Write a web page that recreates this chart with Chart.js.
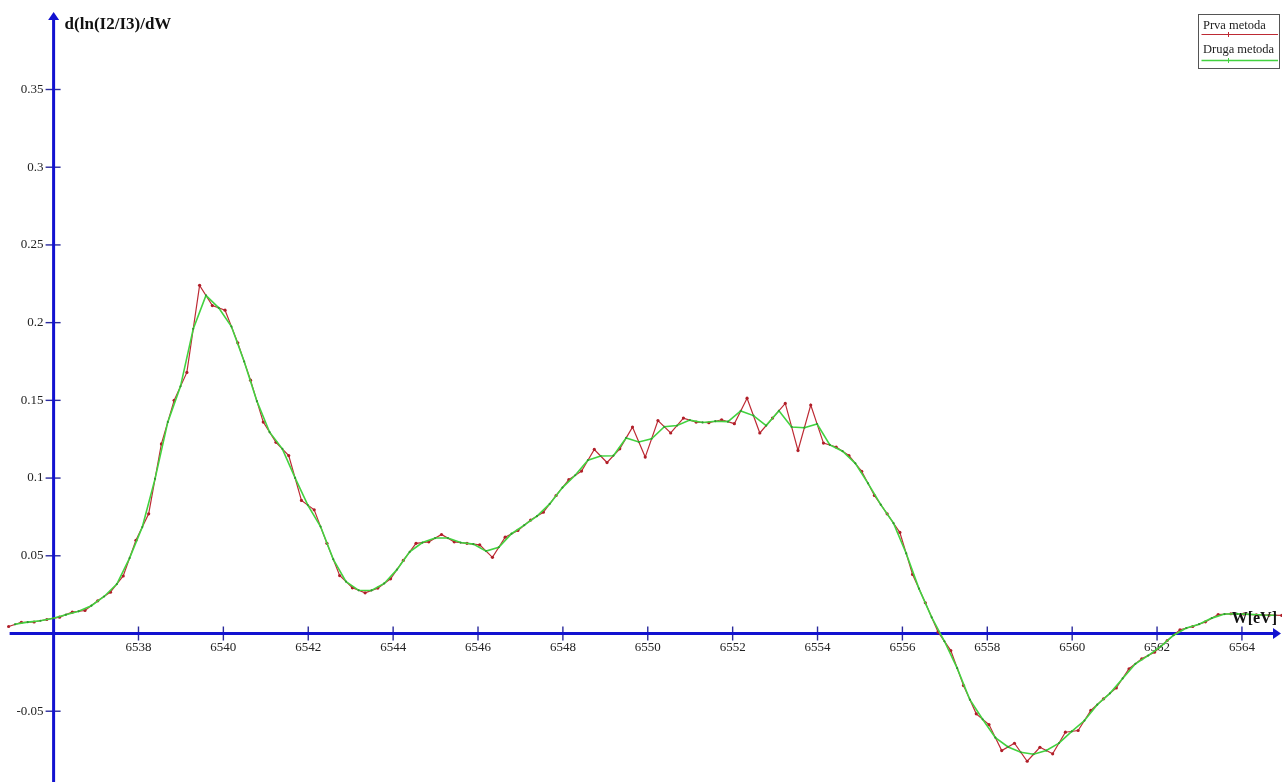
<!DOCTYPE html>
<html>
<head>
<meta charset="utf-8">
<title>d(ln(I2/I3))/dW</title>
<script src="https://cdn.jsdelivr.net/npm/chart.js@4.4.1/dist/chart.umd.min.js"></script>
<style>
  html, body { margin: 0; padding: 0; background: #ffffff; overflow: hidden; }
  canvas { display: block; }
</style>
</head>
<body>
<canvas id="chart" width="1282" height="782"></canvas>
<script>
// Photon energy W [eV] of the samples of the first method
const energiesPrva = [
  6534.94, 6535.24, 6535.54, 6535.84, 6536.14, 6536.44, 6536.74, 6537.04, 6537.34, 6537.64,
  6537.94, 6538.24, 6538.54, 6538.84, 6539.14, 6539.44, 6539.74, 6540.04, 6540.34, 6540.64,
  6540.94, 6541.24, 6541.54, 6541.84, 6542.14, 6542.44, 6542.74, 6543.04, 6543.34, 6543.64,
  6543.94, 6544.24, 6544.54, 6544.84, 6545.14, 6545.44, 6545.74, 6546.04, 6546.34, 6546.64,
  6546.94, 6547.24, 6547.54, 6547.84, 6548.14, 6548.44, 6548.74, 6549.04, 6549.34, 6549.64,
  6549.94, 6550.24, 6550.54, 6550.84, 6551.14, 6551.44, 6551.74, 6552.04, 6552.34, 6552.64,
  6552.94, 6553.24, 6553.54, 6553.84, 6554.14, 6554.44, 6554.74, 6555.04, 6555.34, 6555.64,
  6555.94, 6556.24, 6556.54, 6556.84, 6557.14, 6557.44, 6557.74, 6558.04, 6558.34, 6558.64,
  6558.94, 6559.24, 6559.54, 6559.84, 6560.14, 6560.44, 6560.74, 6561.04, 6561.34, 6561.64,
  6561.94, 6562.24, 6562.54, 6562.84, 6563.14, 6563.44, 6563.74, 6564.04, 6564.34, 6564.64,
  6564.94
];

// d(ln(I2/I3))/dW, first method ("Prva metoda")
const prvaMetoda = [
  0.0045, 0.0072, 0.0074, 0.0090, 0.0105, 0.0137, 0.0148, 0.0210, 0.0266, 0.0370,
  0.0600, 0.0770, 0.1220, 0.1500, 0.1680, 0.2240, 0.2110, 0.2080, 0.1870, 0.1630,
  0.1360, 0.1230, 0.1145, 0.0856, 0.0796, 0.0580, 0.0373, 0.0294, 0.0262, 0.0292,
  0.0352, 0.0470, 0.0580, 0.0590, 0.0637, 0.0590, 0.0580, 0.0570, 0.0490, 0.0620,
  0.0663, 0.0730, 0.0780, 0.0888, 0.0990, 0.1045, 0.1184, 0.1100, 0.1188, 0.1328,
  0.1135, 0.1370, 0.1290, 0.1386, 0.1360, 0.1356, 0.1375, 0.1350, 0.1514, 0.1290,
  0.1386, 0.1480, 0.1178, 0.1470, 0.1225, 0.1200, 0.1145, 0.1044, 0.0888, 0.0770,
  0.0650, 0.0380, 0.0198, 0.0010, -0.0110, -0.0335, -0.0517, -0.0586, -0.0753, -0.0706,
  -0.0822, -0.0732, -0.0774, -0.0635, -0.0624, -0.0495, -0.0420, -0.0350, -0.0227, -0.0163,
  -0.0120, -0.0045, 0.0024, 0.0045, 0.0075, 0.0122, 0.0127, 0.0125, 0.0120, 0.0118,
  0.0116
];

// Photon energy W [eV] of the samples of the second method
const energiesDruga = [
  6535.09, 6535.39, 6535.69, 6535.99, 6536.29, 6536.59, 6536.89, 6537.19, 6537.49, 6537.79,
  6538.09, 6538.39, 6538.69, 6538.99, 6539.29, 6539.59, 6539.89, 6540.19, 6540.49, 6540.79,
  6541.09, 6541.39, 6541.69, 6541.99, 6542.29, 6542.59, 6542.89, 6543.19, 6543.49, 6543.79,
  6544.09, 6544.39, 6544.69, 6544.99, 6545.29, 6545.59, 6545.89, 6546.19, 6546.49, 6546.79,
  6547.09, 6547.39, 6547.69, 6547.99, 6548.29, 6548.59, 6548.89, 6549.19, 6549.49, 6549.79,
  6550.09, 6550.39, 6550.69, 6550.99, 6551.29, 6551.59, 6551.89, 6552.19, 6552.49, 6552.79,
  6553.09, 6553.39, 6553.69, 6553.99, 6554.29, 6554.59, 6554.89, 6555.19, 6555.49, 6555.79,
  6556.09, 6556.39, 6556.69, 6556.99, 6557.29, 6557.59, 6557.89, 6558.19, 6558.49, 6558.79,
  6559.09, 6559.39, 6559.69, 6559.99, 6560.29, 6560.59, 6560.89, 6561.19, 6561.49, 6561.79,
  6562.09, 6562.39, 6562.69, 6562.99, 6563.29, 6563.59, 6563.89, 6564.19, 6564.49, 6564.79
];

// d(ln(I2/I3))/dW, second method ("Druga metoda")
const drugaMetoda = [
  0.0059, 0.0073, 0.0082, 0.0098, 0.0121, 0.0143, 0.0179, 0.0238, 0.0318, 0.0485,
  0.0685, 0.0995, 0.1360, 0.1590, 0.1960, 0.2175, 0.2095, 0.1975, 0.1750, 0.1495,
  0.1295, 0.1188, 0.1001, 0.0826, 0.0688, 0.0477, 0.0334, 0.0278, 0.0277, 0.0322,
  0.0411, 0.0525, 0.0585, 0.0614, 0.0614, 0.0585, 0.0575, 0.0530, 0.0555, 0.0642,
  0.0697, 0.0755, 0.0834, 0.0939, 0.1018, 0.1115, 0.1142, 0.1144, 0.1258, 0.1232,
  0.1253, 0.1330, 0.1338, 0.1373, 0.1358, 0.1366, 0.1363, 0.1432, 0.1402, 0.1338,
  0.1433, 0.1329, 0.1324, 0.1348, 0.1213, 0.1173, 0.1095, 0.0966, 0.0829, 0.0710,
  0.0515, 0.0289, 0.0104, -0.0050, -0.0223, -0.0426, -0.0552, -0.0670, -0.0730, -0.0764,
  -0.0777, -0.0753, -0.0705, -0.0630, -0.0560, -0.0458, -0.0385, -0.0289, -0.0195, -0.0142,
  -0.0083, -0.0011, 0.0035, 0.0060, 0.0099, 0.0125, 0.0126, 0.0123, 0.0119, 0.0117
];

// Axis ticks and their labels
const xTicks = [6538, 6540, 6542, 6544, 6546, 6548, 6550, 6552, 6554, 6556, 6558, 6560, 6562, 6564];
const xTickLabels = ['6538', '6540', '6542', '6544', '6546', '6548', '6550', '6552', '6554', '6556', '6558', '6560', '6562', '6564'];
const yTicks = [-0.05, 0.05, 0.1, 0.15, 0.2, 0.25, 0.3, 0.35];
const yTickLabels = ['-0.05', '0.05', '0.1', '0.15', '0.2', '0.25', '0.3', '0.35'];

// Where the two axes cross
const axisCrossW = 6536;
const axisCrossY = 0;

const seriesNames = ['Prva metoda', 'Druga metoda'];
const RED = '#bd2a34';
const GREEN = '#42d23f';
const AXIS_BLUE = '#1212d0';
const TICK_BLUE = '#2a2a9c';
const SERIF = '"Liberation Serif", "Times New Roman", serif';

function toPoints(xs, ys) {
  return xs.map((w, i) => ({ x: w, y: ys[i] }));
}

function strokeLine(ctx, x1, y1, x2, y2) {
  ctx.beginPath();
  ctx.moveTo(x1, y1);
  ctx.lineTo(x2, y2);
  ctx.stroke();
}

// Axes through the origin, with arrow heads, ticks and labels
const crossAxes = {
  id: 'crossAxes',
  beforeDatasetsDraw(chart) {
    const { ctx, chartArea, scales } = chart;
    const sx = scales.x, sy = scales.y;
    const x0 = sx.getPixelForValue(axisCrossW);
    const y0 = sy.getPixelForValue(axisCrossY);
    const xStart = sx.getPixelForValue(energiesPrva[0]) + 1;
    ctx.save();

    // tick marks
    ctx.strokeStyle = TICK_BLUE;
    ctx.lineWidth = 1.4;
    xTicks.forEach(v => {
      const px = sx.getPixelForValue(v);
      strokeLine(ctx, px, y0 - 7, px, y0 + 7);
    });
    yTicks.forEach(v => {
      const py = sy.getPixelForValue(v);
      strokeLine(ctx, x0 - 8, py, x0 + 7, py);
    });

    // axis lines
    ctx.strokeStyle = AXIS_BLUE;
    ctx.fillStyle = AXIS_BLUE;
    ctx.lineWidth = 3;
    strokeLine(ctx, xStart, y0, chartArea.right - 7, y0);
    strokeLine(ctx, x0, chartArea.bottom, x0, chartArea.top + 19);

    // arrow heads
    ctx.beginPath();
    ctx.moveTo(chartArea.right - 1, y0);
    ctx.lineTo(chartArea.right - 9, y0 - 5.5);
    ctx.lineTo(chartArea.right - 9, y0 + 5.5);
    ctx.closePath();
    ctx.fill();
    ctx.beginPath();
    ctx.moveTo(x0, chartArea.top + 12);
    ctx.lineTo(x0 - 5.5, chartArea.top + 20);
    ctx.lineTo(x0 + 5.5, chartArea.top + 20);
    ctx.closePath();
    ctx.fill();

    // tick labels
    ctx.fillStyle = '#222222';
    ctx.font = '13px ' + SERIF;
    ctx.textAlign = 'center';
    ctx.textBaseline = 'middle';
    xTicks.forEach((v, i) => {
      ctx.fillText(xTickLabels[i], sx.getPixelForValue(v), y0 + 14);
    });
    ctx.textAlign = 'right';
    yTicks.forEach((v, i) => {
      ctx.fillText(yTickLabels[i], x0 - 10, sy.getPixelForValue(v));
    });
    ctx.restore();
  },
  afterDatasetsDraw(chart) {
    const { ctx, chartArea, scales } = chart;
    const x0 = scales.x.getPixelForValue(axisCrossW);
    const y0 = scales.y.getPixelForValue(axisCrossY);
    ctx.save();

    // axis titles
    ctx.fillStyle = '#111111';
    ctx.textBaseline = 'middle';
    ctx.textAlign = 'left';
    ctx.font = 'bold 17px ' + SERIF;
    ctx.fillText('d(ln(I2/I3)/dW', x0 + 11, chartArea.top + 25);
    ctx.textAlign = 'right';
    ctx.font = 'bold 16px ' + SERIF;
    ctx.fillText('W[eV]', chartArea.right - 5, y0 - 15);

    // legend
    const bx = chartArea.right - 83.5, by = chartArea.top + 14.5, bw = 81, bh = 54;
    ctx.fillStyle = '#ffffff';
    ctx.fillRect(bx, by, bw, bh);
    ctx.strokeStyle = '#555555';
    ctx.lineWidth = 1;
    ctx.strokeRect(bx, by, bw, bh);
    const colors = [RED, GREEN];
    ctx.font = '12.5px ' + SERIF;
    ctx.textAlign = 'left';
    seriesNames.forEach((name, k) => {
      const ty = by + 11.5 + k * 24;
      ctx.fillStyle = '#222222';
      ctx.fillText(name, bx + 4.5, ty);
      const ly = ty + 8.5 + k * 2;
      ctx.strokeStyle = colors[k];
      ctx.lineWidth = k === 0 ? 1 : 1.6;
      strokeLine(ctx, bx + 3, ly, bx + bw - 1.5, ly);
      ctx.lineWidth = 1;
      strokeLine(ctx, bx + 30, ly - 2.5, bx + 30, ly + 2.5);
    });
    ctx.restore();
  }
};

new Chart(document.getElementById('chart'), {
  type: 'scatter',
  data: {
    datasets: [
      {
        label: seriesNames[1],
        data: toPoints(energiesDruga, drugaMetoda),
        showLine: true,
        borderColor: GREEN,
        borderWidth: 1.6,
        pointRadius: 1.1,
        pointBackgroundColor: '#2f9a2f',
        pointBorderWidth: 0,
        tension: 0,
        order: 0
      },
      {
        label: seriesNames[0],
        data: toPoints(energiesPrva, prvaMetoda),
        showLine: true,
        borderColor: RED,
        borderWidth: 1.2,
        pointRadius: 1.6,
        pointBackgroundColor: '#b01e28',
        pointBorderWidth: 0,
        tension: 0,
        order: 1
      }
    ]
  },
  options: {
    responsive: false,
    animation: false,
    devicePixelRatio: 1,
    layout: { padding: 0, autoPadding: false },
    plugins: {
      legend: { display: false },
      tooltip: { enabled: false },
      title: { display: false }
    },
    scales: {
      x: { type: 'linear', display: false, min: 6534.737, max: 6564.944 },
      y: { type: 'linear', display: false, min: -0.09554, max: 0.40758 }
    }
  },
  plugins: [crossAxes]
});
</script>
</body>
</html>
